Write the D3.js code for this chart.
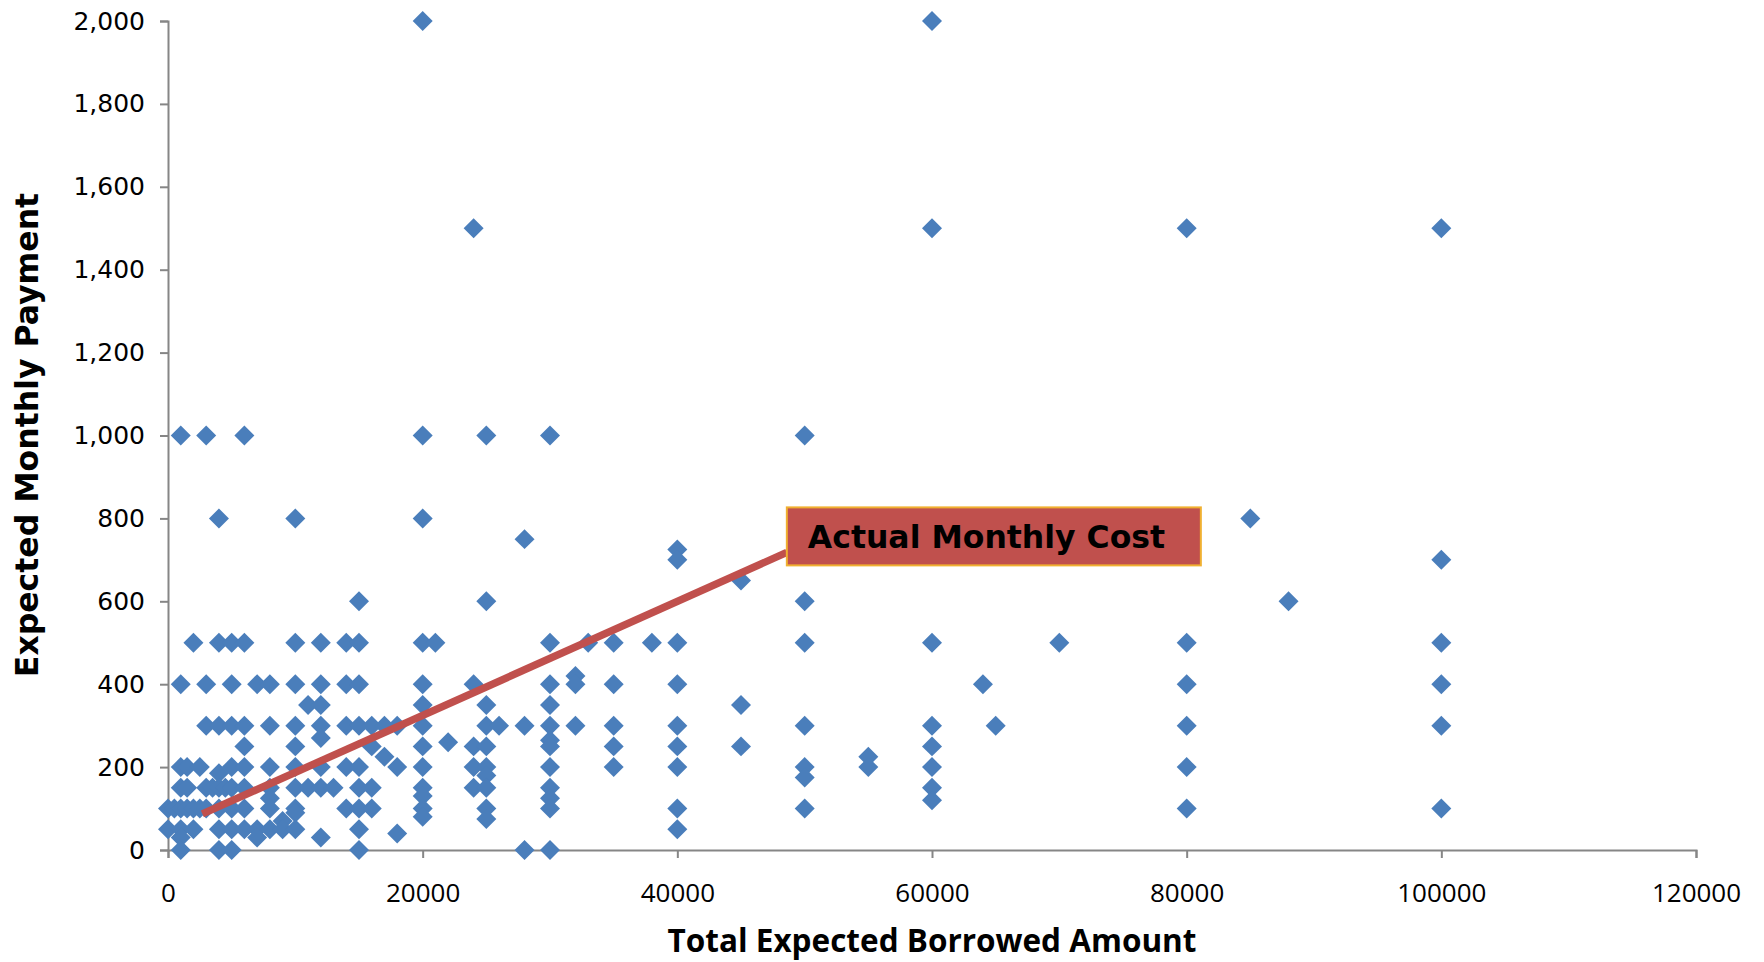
<!DOCTYPE html>
<html>
<head>
<meta charset="utf-8">
<script src="https://cdn.jsdelivr.net/npm/d3@7"></script>
<style>
  html, body { margin: 0; padding: 0; background: #fff; }
  svg { display: block; }
</style>
</head>
<body>
<div id="chart"></div>
<script>
// ========================
// DATA
// ========================
// distinct borrowed amounts, and the monthly payments reported at each amount
const amounts = [0, 500, 1000, 1500, 2000, 2500, 3000, 3500, 4000, 4500, 5000, 6000, 7000, 8000, 9000,
    10000, 11000, 12000, 13000, 14000, 15000, 16000, 17000, 18000, 20000, 21000, 22000, 24000, 25000,
    26000, 28000, 30000, 32000, 33000, 35000, 38000, 40000, 45000, 50000, 55000, 60000, 64000, 65000,
    70000, 80000, 85000, 88000, 100000];
const payments = [
    [100, 50],
    [100],
    [1000, 400, 200, 150, 100, 50, 30, 0],
    [200, 150, 100],
    [500, 100, 50],
    [200, 100],
    [1000, 400, 300, 150, 100],
    [150],
    [800, 500, 300, 185, 150, 100, 50, 0],
    [150],
    [500, 400, 300, 200, 150, 100, 50, 0],
    [1000, 500, 300, 250, 200, 150, 100, 50],
    [400, 50, 30],
    [400, 300, 200, 150, 125, 100, 50],
    [70, 50],
    [800, 500, 400, 300, 250, 200, 150, 100, 90, 50],
    [350, 150],
    [500, 400, 350, 300, 270, 200, 150, 30],
    [150],
    [500, 400, 300, 200, 100],
    [600, 500, 400, 300, 200, 150, 100, 50, 0],
    [300, 250, 150, 100],
    [300, 225],
    [300, 200, 40],
    [2000, 1000, 800, 500, 400, 350, 300, 250, 200, 150, 130, 100, 80],
    [500],
    [260],
    [1500, 400, 250, 200, 150],
    [1000, 600, 350, 300, 250, 200, 180, 150, 100, 75],
    [300],
    [750, 300, 0],
    [1000, 500, 400, 350, 300, 265, 250, 200, 150, 125, 100, 0],
    [420, 400, 300],
    [500],
    [500, 400, 300, 250, 200],
    [500],
    [725, 700, 500, 400, 300, 250, 200, 100, 50],
    [650, 350, 250],
    [1000, 600, 500, 300, 200, 175, 100],
    [225, 200],
    [2000, 1500, 500, 300, 250, 200, 150, 120],
    [400],
    [300],
    [500],
    [1500, 500, 400, 300, 200, 100],
    [800],
    [600],
    [1500, 700, 500, 400, 300, 100]
];

// "Actual Monthly Cost" reference line (two end points)
const costX = [2700, 48600];
const costY = [87, 718];
const costLabel = "Actual Monthly Cost";

const xTicks = [0, 20000, 40000, 60000, 80000, 100000, 120000];
const yTicks = [0, 200, 400, 600, 800, 1000, 1200, 1400, 1600, 1800, 2000];
const xTitle = "Total Expected Borrowed Amount";
const yTitle = "Expected Monthly Payment";

// ========================
// CHART
// ========================
const width = 1764, height = 962;
const margin = { top: 21, right: 68, bottom: 112, left: 168 };

const points = [];
amounts.forEach((a, i) => payments[i].forEach(p => points.push({ x: a, y: p })));

const svg = d3.select("#chart").append("svg")
    .attr("width", width)
    .attr("height", height);

const x = d3.scaleLinear().domain([0, 120000]).range([margin.left, width - margin.right]);
const y = d3.scaleLinear().domain([0, 2000]).range([height - margin.bottom, margin.top]);

const axisColor = "#868686";

// y axis
const yAxis = svg.append("g")
    .attr("transform", `translate(${margin.left},0)`)
    .call(d3.axisLeft(y).tickValues(yTicks).tickFormat(d3.format(",")).tickSize(8).tickPadding(15));
yAxis.select(".domain").attr("stroke", axisColor).attr("stroke-width", 2);
yAxis.selectAll(".tick line").attr("stroke", axisColor).attr("stroke-width", 2);
yAxis.selectAll("text")
    .attr("font-family", "'DejaVu Sans', Verdana, sans-serif")
    .attr("font-size", 25)
    .attr("fill", "#000");

// x axis
const xAxis = svg.append("g")
    .attr("transform", `translate(0,${height - margin.bottom})`)
    .call(d3.axisBottom(x).tickValues(xTicks).tickFormat(d3.format("d")).tickSize(8).tickPadding(26));
xAxis.select(".domain").attr("stroke", axisColor).attr("stroke-width", 2);
xAxis.selectAll(".tick line").attr("stroke", axisColor).attr("stroke-width", 2);
xAxis.selectAll("text")
    .attr("font-family", "'Open Sans', Tahoma, sans-serif")
    .attr("font-size", 26)
    .attr("fill", "#000");

// axis titles
svg.append("text")
    .attr("x", (margin.left + width - margin.right) / 2)
    .attr("y", 952)
    .attr("text-anchor", "middle")
    .attr("font-family", "'Open Sans', Tahoma, sans-serif")
    .attr("font-weight", "bold")
    .attr("font-size", 31.5)
    .text(xTitle);

svg.append("text")
    .attr("transform", "translate(38,435) rotate(-90)")
    .attr("text-anchor", "middle")
    .attr("font-family", "'DejaVu Sans', Verdana, sans-serif")
    .attr("font-weight", "bold")
    .attr("font-size", 31.5)
    .text(yTitle);

// points (diamonds)
const diamond = d3.symbol().type(d3.symbolSquare).size(200);
svg.append("g")
    .selectAll("path")
    .data(points)
    .enter()
    .append("path")
    .attr("d", diamond)
    .attr("transform", d => `translate(${x(d.x)},${y(d.y)}) rotate(45)`)
    .attr("fill", "#4a7ebb");

// actual cost line
svg.append("line")
    .attr("x1", x(costX[0])).attr("y1", y(costY[0]))
    .attr("x2", x(costX[1])).attr("y2", y(costY[1]))
    .attr("stroke", "#c0504d")
    .attr("stroke-width", 7.5);

// label box anchored at the line end
const boxX = x(costX[1]), boxY = y(costY[1]) - 45;
const label = svg.append("g").attr("transform", `translate(${boxX},${boxY})`);
label.append("rect")
    .attr("width", 414)
    .attr("height", 58)
    .attr("fill", "#c0504d")
    .attr("stroke", "#f0b030")
    .attr("stroke-width", 2);
label.append("text")
    .attr("x", 21)
    .attr("y", 41)
    .attr("font-family", "'DejaVu Sans', Verdana, sans-serif")
    .attr("font-weight", "bold")
    .attr("font-size", 31.5)
    .attr("fill", "#000")
    .text(costLabel);
</script>
</body>
</html>
